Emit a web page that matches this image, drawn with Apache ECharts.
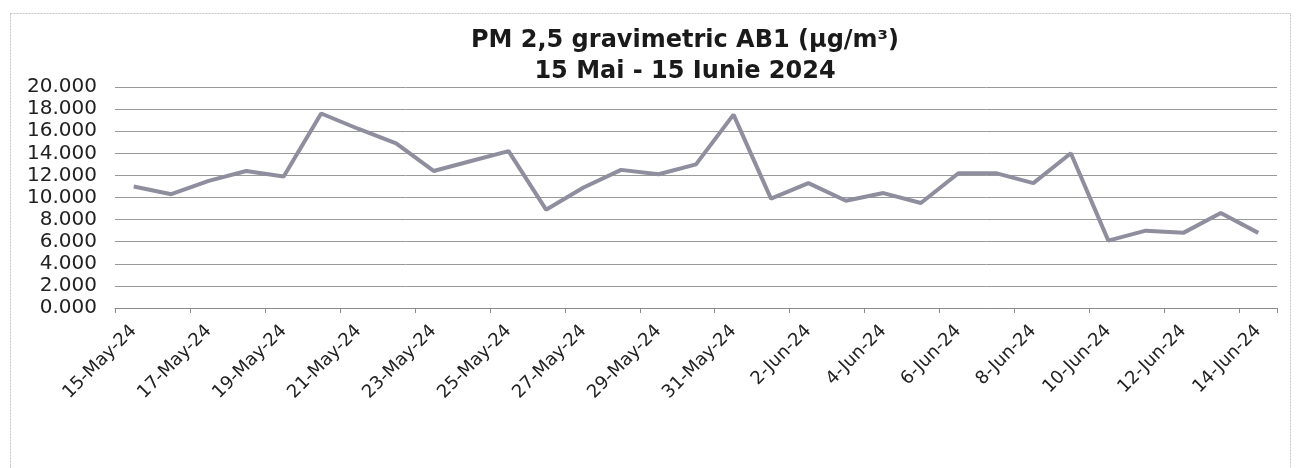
<!DOCTYPE html>
<html>
<head>
<meta charset="utf-8">
<script src="https://cdn.jsdelivr.net/npm/echarts@6/dist/echarts.min.js"></script>
<style>
html,body{margin:0;padding:0;background:#fff;}
#chart{width:1298px;height:468px;}
</style>
</head>
<body>
<div id="chart"></div>
<script>
const categories = ["15-May-24","16-May-24","17-May-24","18-May-24","19-May-24","20-May-24","21-May-24","22-May-24","23-May-24","24-May-24","25-May-24","26-May-24","27-May-24","28-May-24","29-May-24","30-May-24","31-May-24","1-Jun-24","2-Jun-24","3-Jun-24","4-Jun-24","5-Jun-24","6-Jun-24","7-Jun-24","8-Jun-24","9-Jun-24","10-Jun-24","11-Jun-24","12-Jun-24","13-Jun-24","14-Jun-24"];
const pm25 = [11.0,10.3,11.5,12.4,11.9,17.6,16.2,14.9,12.4,13.3,14.2,8.9,10.9,12.5,12.1,13.0,17.5,9.9,11.3,9.7,10.4,9.5,12.2,12.2,11.3,14.0,6.1,7.0,6.8,8.6,6.8];
const titleLines = ["PM 2,5 gravimetric AB1 (µg/m³)", "15 Mai - 15 Iunie 2024"];
const yMin = 0, yMax = 20, yStep = 2;

const chart = echarts.init(document.getElementById('chart'));
chart.setOption({
  animation: false,
  backgroundColor: '#fff',
  title: {
    text: titleLines.join('\n'),
    left: 680, top: 20, textAlign: 'center',
    textStyle: { fontFamily: 'DejaVu Sans', fontWeight: 'bold', fontSize: 24, color: '#1a1a1a', lineHeight: 31 }
  },
  graphic: [{
    type: 'rect', shape: { x: 10.5, y: 13.5, width: 1280, height: 470 },
    style: { fill: 'none', stroke: '#c4c4c4', lineWidth: 1, lineDash: [2, 1] }, silent: true
  }],
  grid: { left: 115, right: 21, top: 87, bottom: 160 },
  xAxis: {
    type: 'category', data: categories, boundaryGap: true,
    axisLine: { lineStyle: { color: '#8a8a8a', width: 1 } },
    axisTick: { show: true, interval: 1, length: 5, lineStyle: { color: '#8a8a8a' } },
    axisLabel: { interval: 1, rotate: 45, fontFamily: 'DejaVu Sans', fontSize: 18, color: '#222', margin: 20 },
    splitLine: { show: false }
  },
  yAxis: {
    type: 'value', min: yMin, max: yMax, interval: yStep,
    axisLine: { show: false }, axisTick: { show: false },
    axisLabel: { formatter: v => v.toFixed(3), fontFamily: 'DejaVu Sans', fontSize: 20, color: '#222', margin: 18 },
    splitLine: { lineStyle: { color: '#9a9a9a', width: 1 } }
  },
  series: [{
    type: 'line', data: pm25, symbol: 'none',
    lineStyle: { color: '#8e8e9e', width: 4 }
  }]
});
</script>
</body>
</html>
